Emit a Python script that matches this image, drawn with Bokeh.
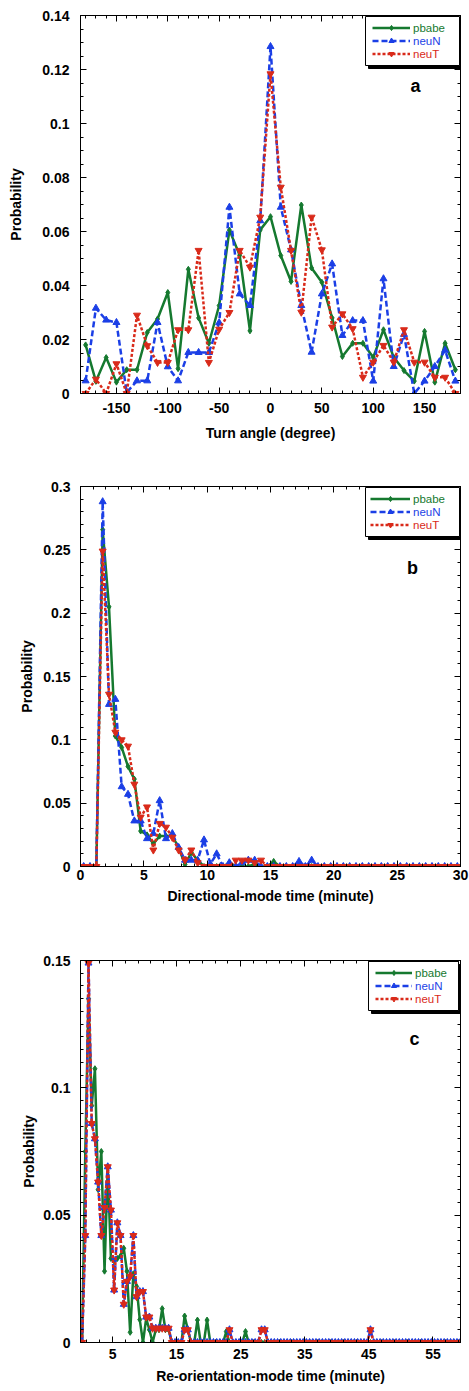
import numpy as np
from bokeh.plotting import figure
from bokeh.layouts import column
from bokeh.models import (Range1d, LinearAxis, FixedTicker, CustomJSTickFormatter,
                          Legend, LegendItem, BoxAnnotation, Label)
from bokeh.embed import file_html
from bokeh.resources import INLINE

# ---------------- data ----------------
series_names = ["pbabe", "neuN", "neuT"]

# panel a: turn angle distribution
turn_angle = [-180, -170, -160, -150, -140, -130, -120, -110, -100, -90, -80, -70,
              -60, -50, -40, -30, -20, -10, 0, 10, 20, 30, 40, 50, 60, 70, 80, 90,
              100, 110, 120, 130, 140, 150, 160, 170, 180]
a_pbabe = [0.018, 0.0045, 0.0133, 0.0042, 0.0088, 0.0088, 0.0226, 0.0276, 0.0374,
           0.0092, 0.046, 0.028, 0.0186, 0.0326, 0.0605, 0.0512, 0.0232, 0.0606,
           0.0655, 0.0511, 0.0415, 0.0698, 0.0465, 0.0412, 0.028, 0.0137, 0.0186,
           0.0186, 0.0134, 0.0236, 0.0134, 0.0085, 0.0046, 0.023, 0.0042, 0.0186, 0.0088]
a_neuN = [0.0047, 0.0316, 0.0272, 0.0263, 0.0004, 0.0047, 0.0047, 0.0263, 0.0099,
          0.0047, 0.0152, 0.0152, 0.0152, 0.0262, 0.069, 0.0369, 0.0326, 0.064,
          0.1285, 0.069, 0.0532, 0.0326, 0.0153, 0.0369, 0.048, 0.0215, 0.027,
          0.027, 0.0046, 0.0425, 0.010, 0.0219, 0.0, 0.0046, 0.010, 0.016, 0.0046]
a_neuT = [0.0, 0.0053, 0.0, 0.011, 0.0, 0.029, 0.0177, 0.0115, 0.0115, 0.0236,
          0.0236, 0.053, 0.0115, 0.0238, 0.030, 0.053, 0.0468, 0.0653, 0.1184,
          0.0764, 0.053, 0.0301, 0.0653, 0.0532, 0.0246, 0.0295, 0.024, 0.006,
          0.0116, 0.0178, 0.0116, 0.0236, 0.0116, 0.0116, 0.006, 0.006, 0.0]

# panel b: directional-mode time (bins of 0.5 min, centres 0.25 ... 29.75)
b_time = np.arange(0.25, 30.0, 0.5)
b_pbabe_head = [0, 0, 0, 0.266, 0.205, 0.103, 0.094, 0.079, 0.069, 0.028, 0.025,
                0.018, 0.024, 0.024, 0.024, 0.015, 0.0016, 0.011, 0.005, 0, 0, 0,
                0, 0.003, 0, 0, 0, 0.002, 0, 0]
b_neuN_head = [0, 0, 0, 0.288, 0.128, 0.132, 0.063, 0.057, 0.036, 0.036, 0.022,
               0.026, 0.052, 0.022, 0.026, 0.015, 0.005, 0.005, 0.005, 0.021, 0.002,
               0.010, 0, 0.003, 0, 0.003, 0.005, 0.005, 0, 0]
b_neuT_head = [0, 0, 0, 0.249, 0.136, 0.106, 0.100, 0.095, 0.065, 0.039, 0.047,
               0.013, 0.034, 0.031, 0.023, 0.013, 0.005, 0.013, 0.003, 0, 0, 0,
               0, 0, 0.005, 0.005, 0.005, 0.003, 0.005, 0]
b_pbabe_tail = {15.25: 0.004}
b_neuN_tail = {17.25: 0.004, 18.25: 0.005}
b_neuT_tail = {}

# panel c: re-orientation-mode time (bins of 0.5 min, centres 0.25 ... 59.25)
c_time = np.arange(0.25, 59.5, 0.5)
c_pbabe_head = [0, 0.075, 0.135, 0.093, 0.1075, 0.060, 0.075, 0.028, 0.069, 0.033,
                0.032, 0.033, 0.034, 0.037, 0.028, 0.004, 0.027, 0.022, 0.009, 0,
                0.0095, 0.005, 0, 0.005, 0.005, 0.0133, 0.005, 0.005, 0, 0]
c_neuN_head = [0, 0.042, 0.149, 0.086, 0.080, 0.063, 0.042, 0.053, 0.069, 0.052,
               0.0206, 0.047, 0.042, 0.015, 0.024, 0.026, 0.042, 0.018, 0.020, 0.020,
               0.010, 0.010, 0.0056, 0.0056, 0.0056, 0.0056, 0.0056, 0.0056, 0, 0]
c_neuT_head = [0, 0.042, 0.149, 0.086, 0.080, 0.063, 0.042, 0.053, 0.069, 0.052,
               0.0206, 0.047, 0.042, 0.015, 0.024, 0.026, 0.042, 0.018, 0.020, 0.020,
               0.010, 0.010, 0.0056, 0.0056, 0.0056, 0.0056, 0.0056, 0.0056, 0, 0]
c_pbabe_tail = {16.25: 0.0104, 16.75: 0.005, 18.25: 0.0088, 19.75: 0.0088,
                22.75: 0.0043, 25.75: 0.0043}
c_neuN_tail = {16.25: 0.005, 16.75: 0.005, 23.25: 0.005, 28.25: 0.005,
               28.75: 0.005, 45.25: 0.005}
c_neuT_tail = {16.25: 0.005, 16.75: 0.005, 23.25: 0.005, 28.25: 0.005,
               28.75: 0.005, 45.25: 0.005}


def build(times, head, tail):
    vals = np.zeros(len(times))
    vals[:len(head)] = head
    for t, v in tail.items():
        vals[int(round((t - times[0]) / 0.5))] = v
    return vals


# ---------------- styles ----------------
COLORS = {"pbabe": "#15792f", "neuN": "#1b3fe6", "neuT": "#d92a1a"}
DASH = {"pbabe": "solid", "neuN": "6 3", "neuT": "3 2"}
MARK = {"pbabe": "diamond", "neuN": "triangle", "neuT": "inverted_triangle"}
FONT = "Liberation Sans"

yfmt = """
var s = tick.toFixed(3);
s = s.replace(/0+$/, '');
s = s.replace(/\\.$/, '');
if (s === '-0') s = '0';
return s;
"""
xfmt = "return String(Math.round(tick));"

LEG_PAD = 5
LEG_ROW = 13


def make_panel(x, series, xr, yr, xt, xminor, yt, yminor, height, top, bottom,
               left, right, xlabel, xstd, xtitle_std, ystd, ytitle_std,
               letter, letter_pos, box, gx, gw):
    p = figure(width=469, height=height, x_range=Range1d(*xr), y_range=Range1d(*yr),
               output_backend="svg", toolbar_location=None,
               min_border_top=top, min_border_bottom=bottom,
               min_border_left=left, min_border_right=right,
               x_axis_type=None, y_axis_type=None)
    p.xgrid.visible = False
    p.ygrid.visible = False
    p.outline_line_color = "black"
    p.outline_line_width = 1
    p.background_fill_color = "white"
    p.border_fill_color = "white"

    xtick = FixedTicker(ticks=xt, minor_ticks=xminor)
    ytick = FixedTicker(ticks=yt, minor_ticks=yminor)

    def style(ax, labels):
        ax.axis_line_color = "black"
        ax.major_tick_line_color = "black"
        ax.minor_tick_line_color = "black"
        ax.major_tick_in = 6
        ax.major_tick_out = 0
        ax.minor_tick_in = 3
        ax.minor_tick_out = 0
        if labels:
            ax.major_label_text_font = FONT
            ax.major_label_text_font_style = "bold"
            ax.major_label_text_font_size = "14px"
            ax.major_label_text_color = "black"
            ax.axis_label_text_font = FONT
            ax.axis_label_text_font_style = "bold"
            ax.axis_label_text_font_size = "14px"
            ax.axis_label_text_color = "black"
        else:
            ax.major_label_text_color = None
            ax.major_label_text_font_size = "1px"
            ax.major_label_standoff = 0

    xb = LinearAxis(ticker=xtick, axis_label=xlabel,
                    formatter=CustomJSTickFormatter(code=xfmt))
    style(xb, True)
    xb.major_label_standoff = xstd
    xb.axis_label_standoff = xtitle_std
    p.add_layout(xb, "below")

    xa = LinearAxis(ticker=xtick)
    style(xa, False)
    p.add_layout(xa, "above")

    yl = LinearAxis(ticker=ytick, axis_label="Probability",
                    formatter=CustomJSTickFormatter(code=yfmt))
    style(yl, True)
    yl.major_label_standoff = ystd
    yl.axis_label_standoff = ytitle_std
    p.add_layout(yl, "left")

    yrr = LinearAxis(ticker=ytick)
    style(yrr, False)
    p.add_layout(yrr, "right")

    rends = {}
    for name in series_names:
        y = series[name]
        lr = p.line(x, y, line_color=COLORS[name], line_width=2.5,
                    line_dash=DASH[name])
        sr = p.scatter(x, y, marker=MARK[name], size=7 if name != "pbabe" else 6,
                       fill_color=COLORS[name], line_color=COLORS[name])
        rends[name] = (lr, sr)

    # legend box with drop shadow (frame-relative screen units, y upward)
    bl, br, bt = box
    bb = bt - (2 * LEG_PAD + 3 * LEG_ROW)
    scr = dict(left_units="screen", right_units="screen",
               top_units="screen", bottom_units="screen")
    p.add_layout(BoxAnnotation(left=bl + 3, right=br + 3, top=bt - 3, bottom=bb - 3,
                               fill_color="black", fill_alpha=1, line_color="black",
                               line_alpha=1, **scr))
    p.add_layout(BoxAnnotation(left=bl, right=br, top=bt, bottom=bb,
                               fill_color="white", fill_alpha=1, line_color="black",
                               line_alpha=1, line_width=1, **scr))
    for i, name in enumerate(series_names):
        lr, sr = rends[name]
        row_bottom = bt - LEG_PAD - (i + 1) * LEG_ROW
        leg = Legend(items=[LegendItem(label=name, renderers=[lr, sr])],
                     location=(gx, row_bottom), padding=0, margin=0,
                     border_line_color=None, background_fill_alpha=0,
                     label_text_color=COLORS[name], label_text_font=FONT,
                     label_text_font_size="11.5px", glyph_width=gw,
                     glyph_height=LEG_ROW, label_height=LEG_ROW,
                     label_standoff=3, spacing=0)
        p.add_layout(leg)

    p.add_layout(Label(x=letter_pos[0], y=letter_pos[1], x_units="screen",
                       y_units="screen", text=letter, text_font=FONT,
                       text_font_style="bold", text_font_size="18px",
                       text_align="center", text_baseline="middle",
                       text_color="black"))
    return p


# panel a
pa = make_panel(
    turn_angle, {"pbabe": a_pbabe, "neuN": a_neuN, "neuT": a_neuT},
    (-185, 185), (0, 0.14),
    [-150, -100, -50, 0, 50, 100, 150], list(range(-180, 181, 10)),
    [0, 0.02, 0.04, 0.06, 0.08, 0.1, 0.12, 0.14], [i * 0.005 for i in range(29)],
    height=460, top=15, bottom=67, left=80, right=7,
    xlabel="Turn angle (degree)", xstd=9, xtitle_std=9, ystd=11, ytitle_std=15,
    letter="a", letter_pos=(335, 308),
    box=(285, 379, 377), gx=292, gw=38)

# panel b
pb = make_panel(
    b_time, {"pbabe": build(b_time, b_pbabe_head, b_pbabe_tail),
             "neuN": build(b_time, b_neuN_head, b_neuN_tail),
             "neuT": build(b_time, b_neuT_head, b_neuT_tail)},
    (0, 30), (0, 0.3),
    [0, 5, 10, 15, 20, 25, 30], list(range(0, 31)),
    [0, 0.05, 0.1, 0.15, 0.2, 0.25, 0.3], [i * 0.01 for i in range(31)],
    height=475, top=26, bottom=69, left=78, right=9,
    xlabel="Directional-mode time (minute)", xstd=3, xtitle_std=5, ystd=10,
    ytitle_std=5, letter="b", letter_pos=(332, 299),
    box=(285, 379, 379), gx=290, gw=40)

# panel c
pc = make_panel(
    c_time, {"pbabe": build(c_time, c_pbabe_head, c_pbabe_tail),
             "neuN": build(c_time, c_neuN_head, c_neuN_tail),
             "neuT": build(c_time, c_neuT_head, c_neuT_tail)},
    (0, 59.3), (0, 0.15),
    [5, 15, 25, 35, 45, 55], list(range(1, 60, 2)),
    [0, 0.05, 0.1, 0.15], [i * 0.005 for i in range(31)],
    height=456, top=25, bottom=49, left=79, right=9,
    xlabel="Re-orientation-mode time (minute)", xstd=6, xtitle_std=6, ystd=10,
    ytitle_std=3, letter="c", letter_pos=(334, 304),
    box=(288, 378, 381), gx=295, gw=37)

layout = column(pa, pb, pc, spacing=0)
open("out.html", "w").write(file_html(layout, INLINE))
